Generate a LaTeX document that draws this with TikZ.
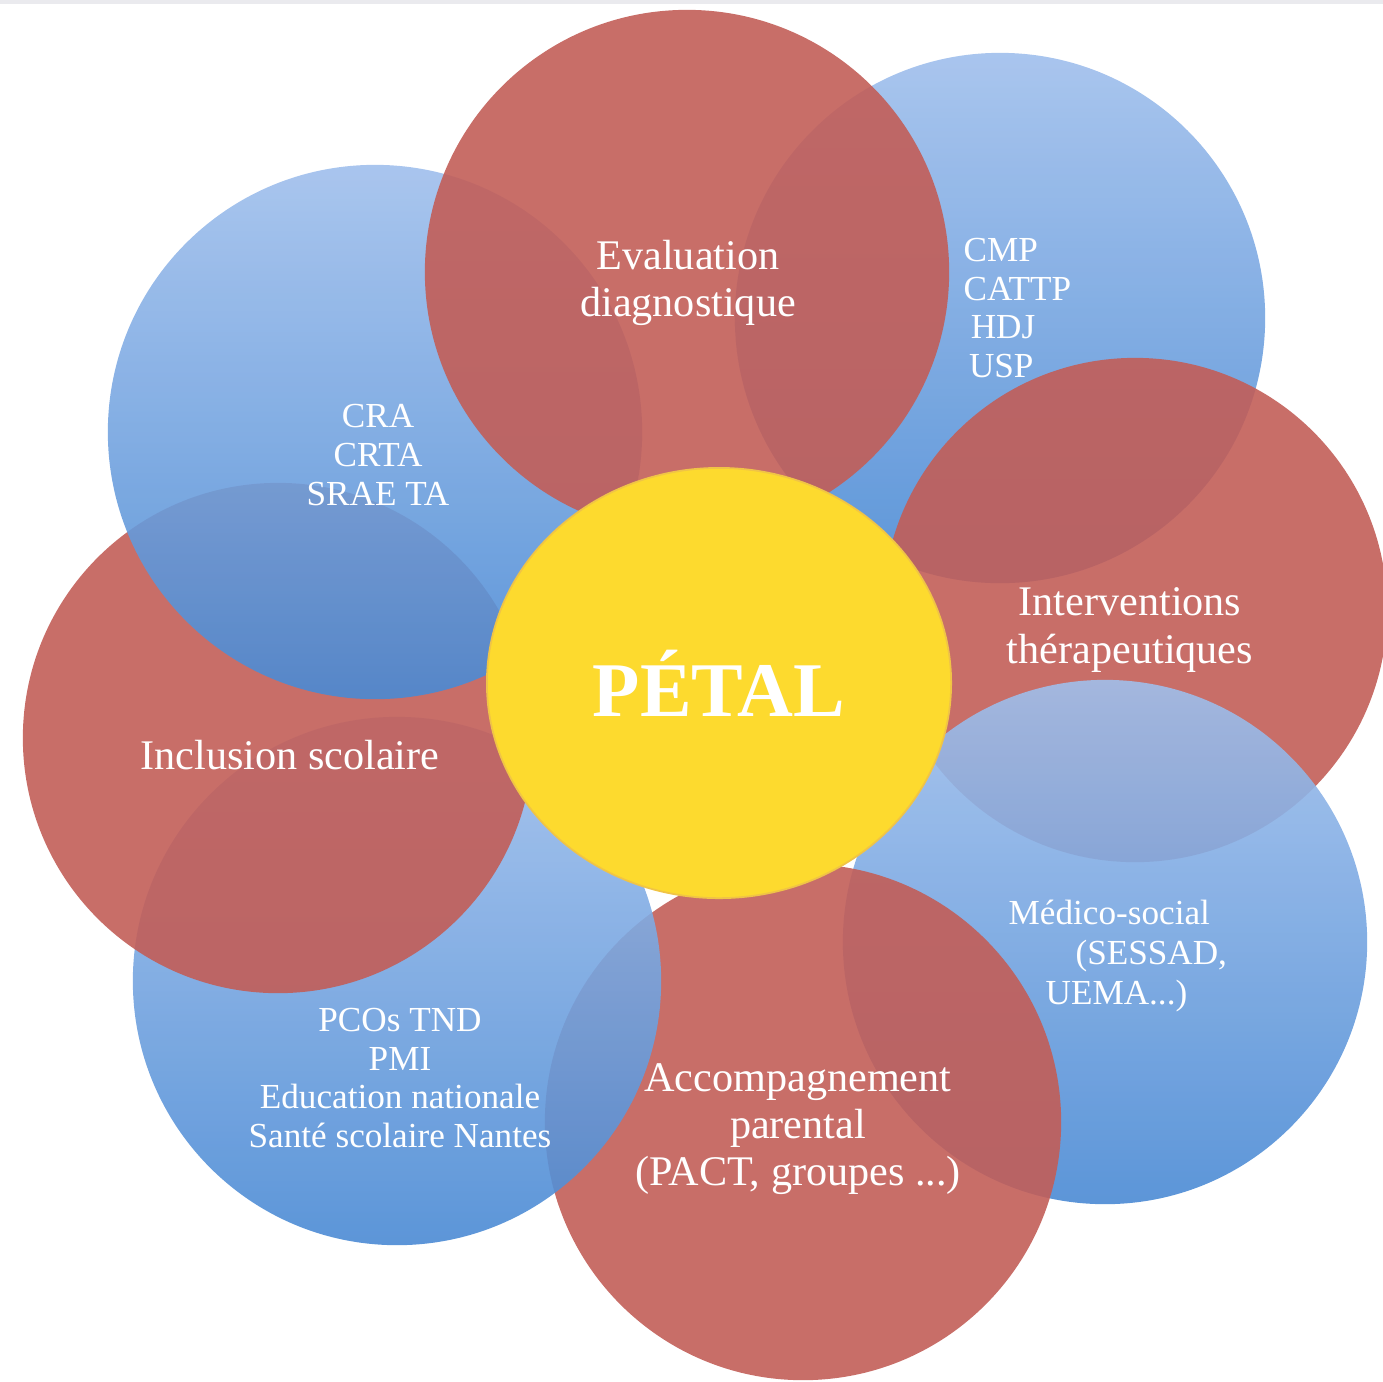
\documentclass[tikz,border=0pt]{standalone}
\usepackage{fontspec}
\setmainfont{Liberation Serif}
\usetikzlibrary{shapes.geometric}

\definecolor{petalred}{RGB}{194,94,88}
\definecolor{bluetop}{RGB}{160,191,236}
\definecolor{bluebottom}{RGB}{74,138,212}
\definecolor{heart}{RGB}{253,218,46}
\definecolor{heartrim}{RGB}{240,196,70}
\definecolor{topband}{RGB}{234,234,238}

\begin{document}
\begin{tikzpicture}[x=0.01cm, y=-0.01cm,
    redpetal/.style={circle, inner sep=0pt, fill=petalred, fill opacity=0.9},
    bluepetal/.style={circle, inner sep=0pt, top color=bluetop, bottom color=bluebottom, fill opacity=0.9},
    petaltext/.style={text=white, align=center, inner sep=0pt, font=\fontsize{12}{13.4}\selectfont},
    listtext/.style={text=white, align=center, inner sep=0pt, font=\fontsize{10}{11}\selectfont}]

\useasboundingbox (0,0) rectangle (1383,1381);

% Grey strip at the top
\fill[topband] (0,0) rectangle (1383,4);

% Petals, each one over the previous one
\node[bluepetal, minimum size=5.30cm] (cmp)    at (1000,318) {};
\node[redpetal,  minimum size=5.04cm] (ther)   at (1135,610) {};
\node[bluepetal, minimum size=5.24cm] (medico) at (1105,942) {};
\node[redpetal,  minimum size=5.16cm] (accomp) at (803,1122) {};
\node[bluepetal, minimum size=5.28cm] (pcos)   at (397,981) {};
\node[redpetal,  minimum size=5.10cm] (incl)   at (278,738) {};
\node[bluepetal, minimum size=5.34cm] (cra)    at (375,432) {};
\node[redpetal,  minimum size=5.24cm] (eval)   at (687,272) {};

% Heart
\node[ellipse, inner sep=0pt, minimum width=4.64cm, minimum height=4.30cm,
      fill=heart, draw=heartrim, line width=0.5pt] (petal) at (719,683) {};
\node[text=white, font=\bfseries\fontsize{22}{26}\selectfont] at (petal.center) {PÉTAL};

% Labels
\node[petaltext] (evaltext) at (688,283) {Evaluation\\diagnostique};
\node[listtext, align=left, anchor=west] (cmptext) at (963,308)
    {CMP\\CATTP\\\hspace*{2pt}HDJ\\\hspace*{1.5pt}USP};
\node[listtext] (cratext) at (378,455) {CRA\\CRTA\\SRAE TA};
\node[petaltext] (thertext) at (1130,630) {Interventions\\thérapeutiques};
\node[petaltext] (incltext) at (290,755) {Inclusion scolaire};
\node[listtext, align=left, anchor=west, font=\fontsize{10}{11.4}\selectfont] (medicotext) at (1008,956)
    {Médico-social\\\hspace*{19pt}(SESSAD,\\\hspace*{10.5pt}UEMA...)};
\node[listtext] (pcostext) at (400,1078)
    {PCOs TND\\PMI\\Education nationale\\Santé scolaire Nantes};
\node[petaltext] (accomptext) at (798,1129)
    {Accompagnement\\parental\\(PACT, groupes ...)};

\end{tikzpicture}
\end{document}
